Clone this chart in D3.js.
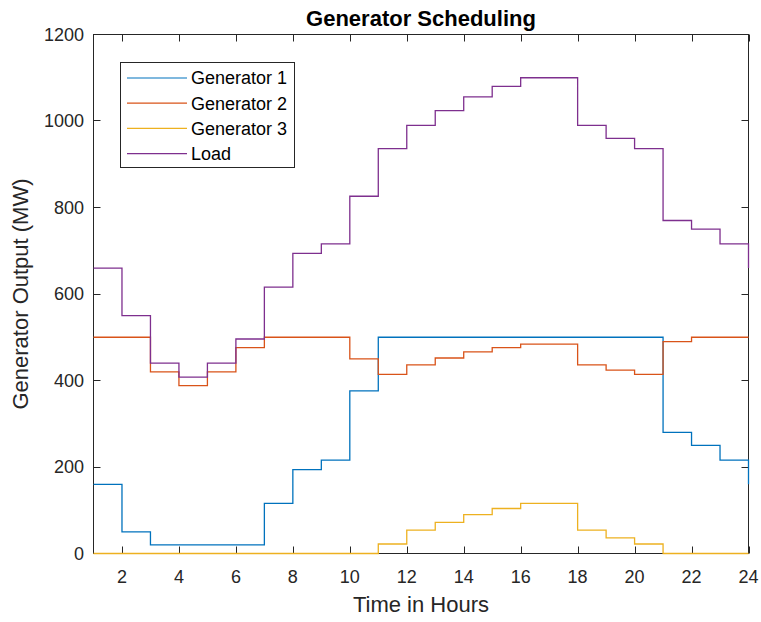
<!DOCTYPE html>
<html>
<head>
<meta charset="utf-8">
<script src="https://cdn.jsdelivr.net/npm/d3@7"></script>
<style>
  html, body { margin: 0; padding: 0; background: #fff; }
  svg { display: block; font-family: "Liberation Sans", Arial, Helvetica, sans-serif; }
</style>
</head>
<body>
<svg id="chart" width="761" height="622"></svg>
<script>
// Hourly schedule, hours 1..24 (MW)
const hours = d3.range(1, 25);
const generator1 = [160, 50, 20, 20, 20, 20, 116, 194, 216, 376, 500, 500, 500, 500, 500, 500, 500, 500, 500, 500, 280, 250, 216, 160];
const generator2 = [500, 500, 420, 388, 420, 476, 500, 500, 500, 450, 414, 436, 452, 466, 476, 484, 484, 436, 424, 414, 490, 500, 500, 500];
const generator3 = [0, 0, 0, 0, 0, 0, 0, 0, 0, 0, 22, 54, 72, 90, 104, 116, 116, 54, 36, 22, 0, 0, 0, 0];
const load       = [660, 550, 440, 408, 440, 496, 616, 694, 716, 826, 936, 990, 1024, 1056, 1080, 1100, 1100, 990, 960, 936, 770, 750, 716, 660];

const seriesNames = ["Generator 1", "Generator 2", "Generator 3", "Load"];
const seriesColors = ["#0072BD", "#D95319", "#EDB120", "#7E2F8E"];
const seriesValues = [generator1, generator2, generator3, load];

const xTicks = d3.range(2, 25, 2);
const yTicks = d3.range(0, 1201, 200);

const svg = d3.select("#chart");
const plot = { left: 93.5, right: 748.5, top: 34.5, bottom: 553.5 };
const axisColor = "#262626";
const tickLen = 7;

const x = d3.scaleLinear().domain([1, 24]).range([plot.left, plot.right]);
const y = d3.scaleLinear().domain([0, 1200]).range([plot.bottom, plot.top]);

// Title
svg.append("text")
  .attr("x", (plot.left + plot.right) / 2).attr("y", 25.5)
  .attr("text-anchor", "middle")
  .attr("font-size", 22).attr("font-weight", "bold")
  .attr("fill", "#000")
  .text("Generator Scheduling");

// Axes box with inward ticks on all four sides
const axes = svg.append("g");
axes.append("rect")
  .attr("x", plot.left).attr("y", plot.top)
  .attr("width", plot.right - plot.left).attr("height", plot.bottom - plot.top)
  .attr("fill", "none").attr("stroke", axisColor).attr("stroke-width", 1);

xTicks.forEach(t => {
  const px = Math.round(x(t)) + 0.5;
  axes.append("line").attr("x1", px).attr("x2", px).attr("y1", plot.bottom).attr("y2", plot.bottom - tickLen)
    .attr("stroke", axisColor);
  axes.append("line").attr("x1", px).attr("x2", px).attr("y1", plot.top).attr("y2", plot.top + tickLen)
    .attr("stroke", axisColor);
  axes.append("text").attr("x", x(t)).attr("y", 582.5)
    .attr("text-anchor", "middle").attr("font-size", 18).attr("fill", axisColor)
    .text(t);
});

yTicks.forEach(t => {
  const py = Math.round(y(t) - 0.5) + 0.5;
  axes.append("line").attr("x1", plot.left).attr("x2", plot.left + tickLen).attr("y1", py).attr("y2", py)
    .attr("stroke", axisColor);
  axes.append("line").attr("x1", plot.right).attr("x2", plot.right - tickLen).attr("y1", py).attr("y2", py)
    .attr("stroke", axisColor);
  axes.append("text").attr("x", 84).attr("y", y(t)).attr("dy", "0.36em")
    .attr("text-anchor", "end").attr("font-size", 18).attr("fill", axisColor)
    .text(t);
});

// Axis labels
svg.append("text")
  .attr("x", (plot.left + plot.right) / 2).attr("y", 612)
  .attr("text-anchor", "middle").attr("font-size", 22).attr("fill", axisColor)
  .text("Time in Hours");

svg.append("text")
  .attr("transform", `translate(28,${(plot.top + plot.bottom) / 2}) rotate(-90)`)
  .attr("text-anchor", "middle").attr("font-size", 22).attr("fill", axisColor)
  .text("Generator Output (MW)");

// Stair-step lines, drawn over the axes box
const line = d3.line()
  .x(d => x(d[0]))
  .y(d => y(d[1]))
  .curve(d3.curveStepAfter);

seriesValues.forEach((vals, i) => {
  svg.append("path")
    .datum(hours.map((h, k) => [h, vals[k]]))
    .attr("d", line)
    .attr("fill", "none")
    .attr("stroke", seriesColors[i])
    .attr("stroke-width", 1.3);
});

// Legend
const legend = svg.append("g");
legend.append("rect")
  .attr("x", 120.5).attr("y", 62.5).attr("width", 174).attr("height", 105)
  .attr("fill", "#fff").attr("stroke", axisColor).attr("stroke-width", 1);
seriesNames.forEach((name, i) => {
  const ry = 78 + i * 25.2;
  legend.append("line")
    .attr("x1", 127).attr("x2", 187).attr("y1", ry).attr("y2", ry)
    .attr("stroke", seriesColors[i]).attr("stroke-width", 1.2);
  legend.append("text")
    .attr("x", 191).attr("y", ry).attr("dy", "0.36em")
    .attr("font-size", 18).attr("fill", "#000")
    .text(name);
});
</script>
</body>
</html>
